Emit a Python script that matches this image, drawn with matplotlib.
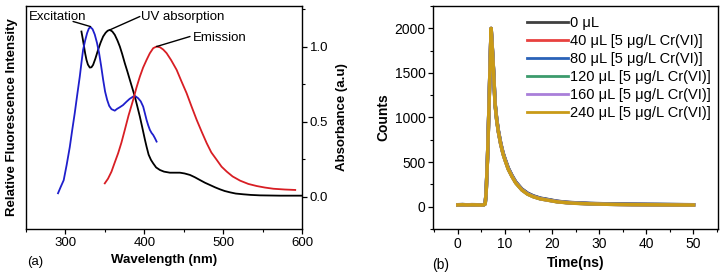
import matplotlib
matplotlib.use("Agg")
import matplotlib.pyplot as plt
from matplotlib.ticker import MultipleLocator

plt.rcParams['font.family'] = ['Liberation Sans', 'DejaVu Sans']

# ---------------- Panel (a) data ----------------
exc_wl = [290.6, 294.0, 297.8, 301.5, 305.5, 308.5, 311.8, 315.0, 318.2, 320.5, 322.4,
          325.0, 327.5, 329.7, 331.8, 334.5, 337.2, 340.0, 342.7, 345.3, 347.8, 350.3,
          352.9, 355.5, 358.4, 362.6, 365.5, 369.0, 373.0, 377.5, 381.5, 385.9, 389.0,
          392.2, 395.5, 398.6, 400.8, 402.9, 405.0, 407.1, 409.2, 411.3, 413.5, 415.6]
exc_val = [0.023, 0.065, 0.11, 0.21, 0.33, 0.44, 0.556, 0.68, 0.80, 0.90, 0.978,
           1.04, 1.09, 1.12, 1.13, 1.115, 1.08, 1.025, 0.956, 0.87, 0.78, 0.70,
           0.645, 0.605, 0.583, 0.573, 0.585, 0.596, 0.61, 0.633, 0.652, 0.667, 0.668,
           0.656, 0.635, 0.60, 0.555, 0.511, 0.475, 0.445, 0.425, 0.411, 0.39, 0.367]

uv_wl = [320.3, 322.0, 323.6, 325.0, 326.7, 328.5, 330.9, 333.0, 335.1, 338.0, 341.4,
         344.5, 347.8, 351.0, 353.5, 356.3, 359.5, 362.6, 366.0, 369.0, 372.0, 375.3,
         378.5, 381.7, 385.0, 388.0, 391.0, 394.4, 397.5, 400.8, 402.9, 405.5, 408.5,
         411.3, 415.0, 419.8, 425.0, 432.5, 440.0, 445.2, 451.0, 457.9, 464.0, 470.6,
         477.0, 483.3, 490.0, 496.1, 502.0, 508.8, 516.0, 525.7, 535.0, 546.9, 560.0,
         572.3, 600.0]
uv_val = [1.10, 1.05, 1.00, 0.955, 0.911, 0.88, 0.86, 0.862, 0.878, 0.92, 0.978,
          1.025, 1.067, 1.092, 1.105, 1.111, 1.10, 1.078, 1.04, 1.00, 0.95, 0.889,
          0.835, 0.778, 0.72, 0.667, 0.605, 0.533, 0.46, 0.38, 0.333, 0.28, 0.245,
          0.222, 0.195, 0.178, 0.167, 0.16, 0.16, 0.16, 0.155, 0.145, 0.13, 0.111,
          0.093, 0.078, 0.062, 0.049, 0.038, 0.029, 0.021, 0.016, 0.012, 0.009, 0.008,
          0.007, 0.007]

em_wl = [349.9, 354.0, 358.4, 362.0, 366.8, 371.0, 375.3, 380.0, 385.9, 390.0, 394.4,
         398.5, 402.9, 407.0, 411.3, 415.6, 420.0, 424.0, 428.3, 434.0, 441.0, 447.0,
         453.7, 460.0, 466.5, 473.0, 479.2, 485.0, 491.9, 498.0, 504.6, 512.0, 521.5,
         532.0, 542.7, 553.0, 563.8, 578.0, 591.4]
em_val = [0.089, 0.12, 0.167, 0.22, 0.289, 0.36, 0.445, 0.54, 0.645, 0.725, 0.80,
          0.86, 0.911, 0.955, 0.989, 1.00, 0.995, 0.98, 0.956, 0.91, 0.845, 0.77,
          0.689, 0.60, 0.511, 0.43, 0.356, 0.295, 0.245, 0.20, 0.167, 0.135, 0.107,
          0.085, 0.071, 0.061, 0.053, 0.048, 0.045]

a_xticks = [300, 400, 500, 600]
a_yticks = [0.0, 0.5, 1.0]

# annotation: (label, text position, line start, line end)
annotations = [
    ("Excitation", (253.4, 1.20), (309.7, 1.167), (331.8, 1.133)),
    ("UV absorption", (395.5, 1.20), (394.4, 1.20), (356.3, 1.111)),
    ("Emission", (462.0, 1.056), (458.0, 1.067), (415.6, 1.00)),
]

# ---------------- Panel (b) data ----------------
t_ns = [0, 1, 2, 3, 4, 5, 5.5, 5.8, 6.0, 6.3, 6.6, 6.9, 7.07, 7.3, 7.6, 7.9, 8.25, 8.6,
        9.1, 9.6, 10.0, 10.7, 11.5, 12.3, 13.6, 14.8, 16.0, 17.5, 19.0, 21, 23, 25,
        28, 31, 34, 37, 40, 43, 46, 50]

counts_0 = [22, 24, 21, 23, 22, 20, 22, 35, 150, 540, 1090, 1690, 1995, 1790, 1510, 1165,
            985, 855, 715, 605, 540, 435, 350, 278, 198, 152, 122, 96, 82, 62, 50, 44,
            37, 33, 30, 28, 27, 26, 24, 22]
counts_40 = [20, 22, 20, 21, 21, 19, 21, 32, 148, 545, 1095, 1695, 1998, 1795, 1505, 1155,
             975, 845, 705, 595, 530, 425, 342, 270, 190, 145, 115, 90, 76, 58, 47, 40,
             33, 29, 26, 24, 23, 22, 21, 20]
counts_80 = [21, 23, 20, 22, 21, 19, 22, 33, 152, 548, 1098, 1698, 2000, 1798, 1508, 1160,
             980, 850, 710, 600, 535, 430, 346, 274, 194, 148, 118, 93, 79, 60, 48, 42,
             35, 31, 28, 26, 25, 24, 23, 21]
counts_120 = [19, 21, 19, 20, 20, 18, 20, 31, 146, 542, 1092, 1692, 1996, 1792, 1502, 1152,
              972, 842, 702, 592, 527, 422, 339, 268, 188, 142, 113, 88, 75, 56, 46, 39,
              32, 28, 25, 23, 22, 21, 20, 19]
counts_160 = [20, 21, 19, 21, 20, 18, 21, 31, 147, 544, 1094, 1694, 1997, 1794, 1503, 1153,
              973, 843, 703, 593, 528, 423, 340, 269, 189, 143, 114, 89, 75, 57, 46, 39,
              33, 28, 25, 23, 22, 21, 20, 19]
counts_240 = [20, 22, 19, 21, 20, 18, 21, 30, 145, 540, 1090, 1690, 2000, 1790, 1500, 1150,
              970, 840, 700, 590, 525, 420, 337, 265, 187, 140, 112, 88, 74, 55, 45, 38,
              32, 28, 25, 23, 22, 21, 20, 19]

b_labels = ["0 μL", "40 μL [5 μg/L Cr(VI)]", "80 μL [5 μg/L Cr(VI)]",
            "120 μL [5 μg/L Cr(VI)]", "160 μL [5 μg/L Cr(VI)]", "240 μL [5 μg/L Cr(VI)]"]
b_series = [counts_0, counts_40, counts_80, counts_120, counts_160, counts_240]
b_colors = ["#404040", "#e8413f", "#2a62b8", "#3c9b6c", "#a97fd9", "#c99a17"]
b_xticks = [0, 10, 20, 30, 40, 50]
b_yticks = [0, 500, 1000, 1500, 2000]

W, H = 722, 279
fig = plt.figure(figsize=(W / 100, H / 100), dpi=100)

def fx(px):
    return px / W

def fy(py):
    return 1 - py / H

# ---------------- Panel (a) ----------------
axa = fig.add_axes([fx(26), fy(229), fx(302 - 26), (229 - 6) / H])
axa.plot(uv_wl, uv_val, color="black", lw=1.3)
axa.plot(exc_wl, exc_val, color="#1f1fcc", lw=1.3)
axa.plot(em_wl, em_val, color="#d81e24", lw=1.3)
axa.set_xlim(250, 600)
axa.set_ylim(-0.215, 1.27)
axa.set_xticks(a_xticks)
axa.xaxis.set_minor_locator(MultipleLocator(50))
axa.yaxis.tick_right()
axa.yaxis.set_label_position("right")
axa.set_yticks(a_yticks)
axa.set_yticklabels(["0.0", "0.5", "1.0"])
axa.yaxis.set_minor_locator(MultipleLocator(0.25))
axa.tick_params(which="major", direction="out", length=3.5, width=0.9, labelsize=9.5, pad=2)
axa.tick_params(which="minor", direction="out", length=2, width=0.8)
axa.tick_params(axis="y", which="both", left=False, right=True)
axa.set_xlabel("Wavelength (nm)", fontsize=9.5, fontweight="bold", labelpad=4)
axa.set_ylabel("Absorbance (a.u)", fontsize=9.5, fontweight="bold", labelpad=6)
for s in axa.spines.values():
    s.set_linewidth(1.0)

for label, tpos, lstart, lend in annotations:
    axa.annotate("", xy=lend, xytext=lstart,
                 arrowprops=dict(arrowstyle="-", color="black", lw=1.0,
                                 shrinkA=0, shrinkB=0))
    axa.text(tpos[0], tpos[1], label, fontsize=9.5, ha="left", va="center")

fig.text(fx(12), fy(117.5), "Relative Fluorescence Intensity", rotation=90,
         fontsize=9.5, fontweight="bold", ha="center", va="center")
fig.text(fx(27), fy(262), "(a)", fontsize=9.5, ha="left", va="center")

# ---------------- Panel (b) ----------------
axb = fig.add_axes([fx(433.3), fy(229), fx(718 - 433.3), (229 - 6) / H])
for vals, col, lab in zip(b_series, b_colors, b_labels):
    axb.plot(t_ns, vals, color=col, lw=2.5, label=lab)
axb.set_xlim(-5.2, 55.2)
axb.set_ylim(-250, 2250)
axb.set_xticks(b_xticks)
axb.set_yticks(b_yticks)
axb.xaxis.set_minor_locator(MultipleLocator(5))
axb.yaxis.set_minor_locator(MultipleLocator(250))
axb.tick_params(which="major", direction="out", length=3.5, width=0.9, labelsize=10, pad=2)
axb.tick_params(which="minor", direction="out", length=2, width=0.8)
axb.set_xlabel("Time(ns)", fontsize=10, fontweight="bold", labelpad=4)
axb.set_ylabel("Counts", fontsize=10, fontweight="bold", labelpad=3)
for s in axb.spines.values():
    s.set_linewidth(1.0)

leg = axb.legend(loc="upper left", bbox_to_anchor=(fx(527), fy(16)),
                 bbox_transform=fig.transFigure, frameon=False, fontsize=10.5,
                 handlelength=2.8, handletextpad=0.15, labelspacing=0.27,
                 borderpad=0, borderaxespad=0)
for ln in leg.get_lines():
    ln.set_linewidth(2.0)

fig.text(fx(432), fy(265), "(b)", fontsize=10, ha="left", va="center")

fig.savefig("out.png", dpi=100)
